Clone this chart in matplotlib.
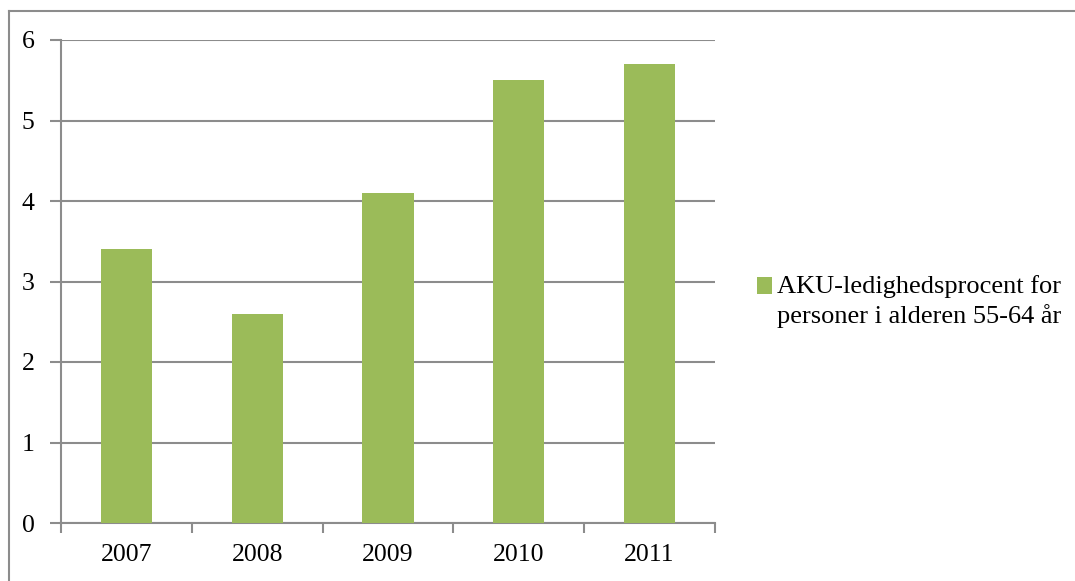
import matplotlib
matplotlib.use("Agg")
import matplotlib.pyplot as plt
from matplotlib.patches import Rectangle
from matplotlib.lines import Line2D
from matplotlib.container import BarContainer
from matplotlib.legend_handler import HandlerPatch

years = ["2007", "2008", "2009", "2010", "2011"]
rates = [3.4, 2.6, 4.1, 5.5, 5.7]
series_label = "AKU-ledighedsprocent for\npersoner i alderen 55-64 år"
y_ticks = [0, 1, 2, 3, 4, 5, 6]

W, H = 1075, 581
plt.rcParams['font.family'] = ['Liberation Serif', 'DejaVu Serif']

fig = plt.figure(figsize=(W / 100, H / 100), dpi=100)

grid_c = "#8c8c8c"
bar_c = "#9bbb59"

# outer chart frame (left and top edges)
fx, fy = 8.5 / W, 1 - 11 / H
fig.add_artist(Line2D([fx, fx], [-0.05, fy], transform=fig.transFigure,
                      color=grid_c, linewidth=1.5))
fig.add_artist(Line2D([fx, 1.05], [fy, fy], transform=fig.transFigure,
                      color=grid_c, linewidth=1.5))

ax = fig.add_axes([61 / W, 1 - 523 / H, 654 / W, 483 / H])

x = list(range(len(years)))
ax.bar(x, rates, width=0.39, color=bar_c, zorder=3, label=series_label)

ax.set_xlim(-0.5, len(years) - 0.5)
ax.set_ylim(0, 6)
ax.set_yticks(y_ticks)
ax.set_yticklabels([str(t) for t in y_ticks], fontsize=18.5)
ax.set_xticks(x)
ax.set_xticklabels(years, fontsize=18.5)
ax.set_xticks([i - 0.5 for i in range(len(years) + 1)], minor=True)

ax.tick_params(axis="x", which="major", length=0, pad=15)
ax.tick_params(axis="x", which="minor", length=7, width=1.5, color=grid_c, direction="out")
ax.tick_params(axis="y", length=8, width=1.5, color=grid_c, direction="out", pad=11)

ax.yaxis.grid(True, color=grid_c, linewidth=1.5, zorder=0)
ax.set_axisbelow(True)
for s in ["top", "right"]:
    ax.spines[s].set_visible(False)
for s in ["left", "bottom"]:
    ax.spines[s].set_color(grid_c)
    ax.spines[s].set_linewidth(1.5)


def top_aligned_patch(legend, orig_handle, xdescent, ydescent, width, height, fontsize):
    # keep the swatch beside the first line of the label
    return Rectangle((-xdescent, -ydescent + fontsize * 0.57), width, height)


def copy_bar_style(legend_handle, orig_handle):
    legend_handle.update_from(orig_handle[0])


leg_fs = 19
leg = ax.legend(loc="upper left", bbox_to_anchor=(757 / W, 1 - 275 / H),
                bbox_transform=fig.transFigure, frameon=False, fontsize=leg_fs,
                handlelength=0.57, handleheight=0.57, handletextpad=0.2,
                borderaxespad=0, borderpad=0,
                handler_map={BarContainer: HandlerPatch(patch_func=top_aligned_patch,
                                                        update_func=copy_bar_style)})
for t in leg.get_texts():
    t.set_linespacing(1.3)

fig.savefig("out.png", dpi=100)
